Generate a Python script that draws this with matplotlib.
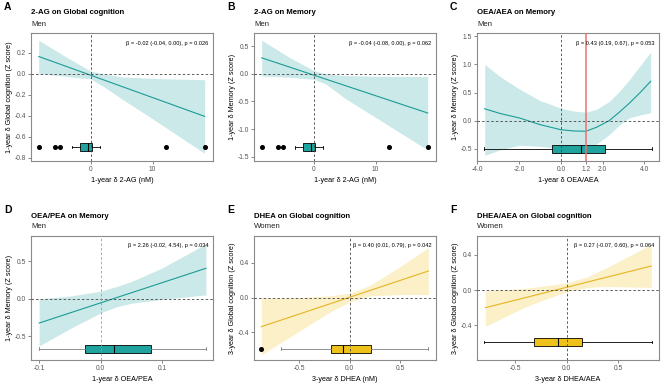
import matplotlib
matplotlib.use("Agg")
import matplotlib.pyplot as plt

plt.rcParams['font.family'] = ['Liberation Sans', 'DejaVu Sans']

# ---- data ----
# A: 2-AG on Global cognition (men)
a_line_x = [-8.45, 18.45]
a_line_y = [0.165, -0.407]
a_band_x = [-8.45, -4, 0, 2, 5, 10, 18.45]
a_band_hi = [0.32, 0.16, 0.025, 0.0, -0.03, -0.045, -0.057]
a_band_lo = [0.0, -0.025, -0.05, -0.12, -0.24, -0.43, -0.76]
a_box = [-3.06, -1.73, -0.39, 0.16, 1.5]   # whisker lo, q1, median, q3, whisker hi
a_out = [-8.45, -5.76, -4.95, 12.26, 18.45]
a_box_y = -0.7

# B: 2-AG on Memory (men)
b_line_x = [-8.45, 18.45]
b_line_y = [0.29, -0.71]
b_band_x = [-8.45, -4, 0, 2, 5, 10, 18.45]
b_band_hi = [0.61, 0.3, 0.06, 0.0, -0.03, -0.045, -0.05]
b_band_lo = [-0.04, -0.06, -0.1, -0.19, -0.44, -0.79, -1.38]
b_box = [-3.06, -1.73, -0.39, 0.16, 1.5]
b_out = [-8.45, -5.76, -4.95, 12.26, 18.45]
b_box_y = -1.33

# C: OEA/AEA on Memory (men), spline with knot at 1.2
c_line_x = [-3.65, -2.9, -1.98, -1.02, 0, 0.6, 1.2, 1.7, 2.32, 2.8, 3.28, 3.8, 4.3]
c_line_y = [0.21, 0.125, 0.046, -0.07, -0.163, -0.185, -0.19, -0.12, 0.0, 0.15, 0.31, 0.5, 0.7]
c_band_hi = [1.0, 0.78, 0.56, 0.36, 0.22, 0.17, 0.15, 0.2, 0.34, 0.52, 0.73, 0.98, 1.22]
c_band_lo = [-0.62, -0.52, -0.44, -0.46, -0.5, -0.52, -0.52, -0.42, -0.25, -0.08, 0.05, 0.1, 0.14]
c_box = [-3.7, -0.416, 0.985, 2.13, 4.36]
c_out = []
c_box_y = -0.5
c_knot = 1.2

# D: OEA/PEA on Memory (men)
d_line_x = [-0.1, 0.171]
d_line_y = [-0.325, 0.405]
d_band_x = [-0.1, -0.05, 0.0, 0.025, 0.05, 0.1, 0.171]
d_band_hi = [0.0, 0.035, 0.1, 0.16, 0.23, 0.41, 0.73]
d_band_lo = [-0.63, -0.4, -0.19, -0.11, -0.06, -0.01, 0.05]
d_box = [-0.101, -0.0255, 0.022, 0.081, 0.171]
d_out = []
d_box_y = -0.667

# E: DHEA on Global cognition (women)
e_line_x = [-0.871, 0.775]
e_line_y = [-0.336, 0.306]
e_band_x = [-0.871, -0.5, -0.2, 0.0, 0.2, 0.5, 0.775]
e_band_hi = [-0.01, 0.0, 0.02, 0.05, 0.14, 0.36, 0.575]
e_band_lo = [-0.66, -0.39, -0.17, -0.05, 0.02, 0.035, 0.035]
e_box = [-0.674, -0.187, -0.07, 0.207, 0.775]
e_out = [-0.871]
e_box_y = -0.589

# F: DHEA/AEA on Global cognition (women)
f_line_x = [-0.79, 0.821]
f_line_y = [-0.199, 0.272]
f_band_x = [-0.79, -0.4, -0.2, 0.0, 0.2, 0.4, 0.821]
f_band_hi = [-0.01, 0.02, 0.05, 0.08, 0.15, 0.26, 0.515]
f_band_lo = [-0.41, -0.19, -0.1, -0.02, 0.03, 0.04, 0.03]
f_box = [-0.80, -0.314, -0.084, 0.151, 0.828]
f_out = []
f_box_y = -0.587

TEAL = dict(line='#1a9c97', band='#cce9e9', box='#1fa39e')
GOLD = dict(line='#e6b422', band='#fcf0c8', box='#eec21a')

W, H = 669, 387
fig = plt.figure(figsize=(W / 100, H / 100), dpi=100)


def draw_panel(p):
    # axes rectangle given in pixels (left, top, right, bottom)
    l, t, r, b = p['rect']
    ax = fig.add_axes([l / W, 1 - b / H, (r - l) / W, (b - t) / H])
    col = p['col']
    ax.fill_between(p['band_x'], p['band_lo'], p['band_hi'], color=col['band'], lw=0, zorder=1)
    ax.plot(p['line_x'], p['line_y'], color=col['line'], lw=0.8, zorder=2)
    # reference lines
    ax.axhline(0, color='#444444', lw=0.6, dashes=(3, 2.5), zorder=3)
    ax.axvline(0, color=p.get('vcol', '#444444'), lw=0.6, dashes=(3, 2.5), zorder=3)
    if 'knot' in p:
        ax.axvline(p['knot'], color='#f07070', lw=1.1, zorder=3)

    # box plot from the summary numbers, about 8 px tall
    yr = p['ylim'][1] - p['ylim'][0]
    hbox = 8 / (b - t) * yr
    bx = p['box']
    stats = [dict(whislo=bx[0], q1=bx[1], med=bx[2], q3=bx[3], whishi=bx[4], fliers=p['out'])]
    wc = p.get('wcol', 'black')
    ax.bxp(stats, positions=[p['box_y']], widths=hbox, orientation='horizontal',
           patch_artist=True, manage_ticks=False, capwidths=hbox * 0.35,
           boxprops=dict(facecolor=col['box'], edgecolor='black', lw=0.6),
           medianprops=dict(color='black', lw=0.8),
           whiskerprops=dict(color=wc, lw=0.6), capprops=dict(color=wc, lw=0.6),
           flierprops=dict(marker='o', markerfacecolor='black', markeredgecolor='black', markersize=2.6))

    ax.set_xlim(p['xlim'])
    ax.set_ylim(p['ylim'])
    ax.set_xticks(p['xticks'])
    ax.set_xticklabels(p['xticklabels'])
    ax.set_yticks(p['yticks'])
    ax.set_yticklabels(p['yticklabels'])
    ax.tick_params(length=2, width=0.5, color='#555555', labelcolor='#555555', labelsize=4.8, pad=1.5)
    for s in ax.spines.values():
        s.set_color('#8a8a8a')
        s.set_linewidth(0.8)
    ax.set_xlabel(p['xlabel'], fontsize=5.2, labelpad=3)
    ax.set_ylabel(p['ylabel'], fontsize=5.2, labelpad=1.5)
    ax.text(0.974, 0.92, p['note'], transform=ax.transAxes, ha='right', va='center', fontsize=4.1)

    # letter, title and subtitle above the axes
    fig.text((l - 27) / W, 1 - (t - 26) / H, p['letter'], fontsize=7.5, fontweight='bold', va='center')
    fig.text(l / W, 1 - (t - 20) / H, p['title'], fontsize=5.6, fontweight='bold', va='center')
    fig.text(l / W, 1 - (t - 9) / H, p['sub'], fontsize=5.6, va='center', color='#222222')


panels = [
    dict(rect=(31, 33, 213, 161), letter='A', title='2-AG on Global cognition', sub='Men',
         xlabel='1-year δ 2-AG (nM)', ylabel='1-year δ Global cognition (Z score)',
         note='β = -0.02 (-0.04, 0.00), p = 0.026', col=TEAL,
         line_x=a_line_x, line_y=a_line_y, band_x=a_band_x, band_hi=a_band_hi, band_lo=a_band_lo,
         box=a_box, out=a_out, box_y=a_box_y,
         xlim=(-9.7, 19.8), ylim=(-0.833, 0.389), xticks=[0, 10], xticklabels=['0', '10'],
         yticks=[-0.8, -0.6, -0.4, -0.2, 0.0, 0.2],
         yticklabels=['-0.8', '-0.6', '-0.4', '-0.2', '0.0', '0.2']),
    dict(rect=(254, 33, 436, 161), letter='B', title='2-AG on Memory', sub='Men',
         xlabel='1-year δ 2-AG (nM)', ylabel='1-year δ Memory (Z score)',
         note='β = -0.04 (-0.08, 0.00), p = 0.062', col=TEAL,
         line_x=b_line_x, line_y=b_line_y, band_x=b_band_x, band_hi=b_band_hi, band_lo=b_band_lo,
         box=b_box, out=b_out, box_y=b_box_y,
         xlim=(-9.7, 19.8), ylim=(-1.58, 0.74), xticks=[0, 10], xticklabels=['0', '10'],
         yticks=[-1.5, -1.0, -0.5, 0.0, 0.5],
         yticklabels=['-1.5', '-1.0', '-0.5', '0.0', '0.5']),
    dict(rect=(477, 33, 659, 161), letter='C', title='OEA/AEA on Memory', sub='Men',
         xlabel='1-year δ OEA/AEA', ylabel='1-year δ Memory (Z score)',
         note='β = 0.43 (0.19, 0.67), p = 0.053', col=TEAL,
         line_x=c_line_x, line_y=c_line_y, band_x=c_line_x, band_hi=c_band_hi, band_lo=c_band_lo,
         box=c_box, out=c_out, box_y=c_box_y, knot=c_knot,
         xlim=(-4.02, 4.70), ylim=(-0.72, 1.56), xticks=[-4, -2, 0, 1.2, 2, 4],
         xticklabels=['-4.0', '-2.0', '0.0', '1.2', '2.0', '4.0'],
         yticks=[-0.5, 0.0, 0.5, 1.0, 1.5],
         yticklabels=['-0.5', '0.0', '0.5', '1.0', '1.5']),
    dict(rect=(31, 236, 213, 360), letter='D', title='OEA/PEA on Memory', sub='Men',
         xlabel='1-year δ OEA/PEA', ylabel='1-year δ Memory (Z score)',
         note='β = 2.26 (-0.02, 4.54), p = 0.034', col=TEAL, wcol='#808080', vcol='#9a9a9a',
         line_x=d_line_x, line_y=d_line_y, band_x=d_band_x, band_hi=d_band_hi, band_lo=d_band_lo,
         box=d_box, out=d_out, box_y=d_box_y,
         xlim=(-0.1133, 0.1826), ylim=(-0.818, 0.836), xticks=[-0.1, 0.0, 0.1],
         xticklabels=['-0.1', '0.0', '0.1'], yticks=[-0.5, 0.0, 0.5],
         yticklabels=['-0.5', '0.0', '0.5']),
    dict(rect=(254, 236, 436, 360), letter='E', title='DHEA on Global cognition', sub='Women',
         xlabel='3-year δ DHEA (nM)', ylabel='3-year δ Global cognition (Z score)',
         note='β = 0.40 (0.01, 0.79), p = 0.042', col=GOLD, wcol='#808080',
         line_x=e_line_x, line_y=e_line_y, band_x=e_band_x, band_hi=e_band_hi, band_lo=e_band_lo,
         box=e_box, out=e_out, box_y=e_box_y,
         xlim=(-0.943, 0.850), ylim=(-0.72, 0.71), xticks=[-0.5, 0.0, 0.5],
         xticklabels=['-0.5', '0.0', '0.5'], yticks=[-0.4, 0.0, 0.4],
         yticklabels=['-0.4', '0.0', '0.4']),
    dict(rect=(477, 236, 659, 360), letter='F', title='DHEA/AEA on Global cognition', sub='Women',
         xlabel='3-year δ DHEA/AEA', ylabel='3-year δ Global cognition (Z score)',
         note='β = 0.27 (-0.07, 0.60), p = 0.064', col=GOLD,
         line_x=f_line_x, line_y=f_line_y, band_x=f_band_x, band_hi=f_band_hi, band_lo=f_band_lo,
         box=f_box, out=f_out, box_y=f_box_y,
         xlim=(-0.871, 0.896), ylim=(-0.79, 0.611), xticks=[-0.5, 0.0, 0.5],
         xticklabels=['-0.5', '0.0', '0.5'], yticks=[-0.4, 0.0, 0.4],
         yticklabels=['-0.4', '0.0', '0.4']),
]

for p in panels:
    draw_panel(p)

fig.savefig('out.png', dpi=100)
